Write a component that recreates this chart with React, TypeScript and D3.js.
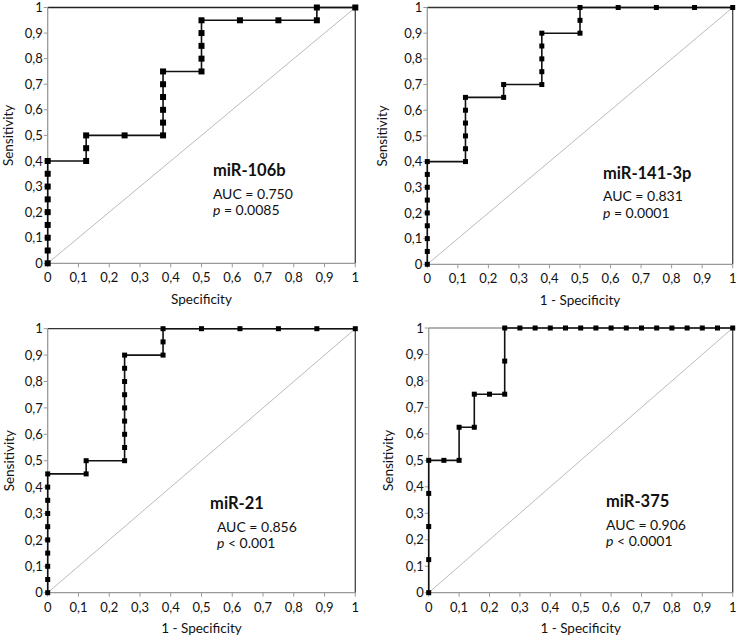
import * as d3 from "d3";

// ROC points: x = 1 - specificity, y = sensitivity
const fpr106b = [0, 0, 0, 0, 0, 0, 0, 0, 0, 0.125, 0.125, 0.125, 0.25, 0.375, 0.375, 0.375, 0.375, 0.375, 0.375, 0.5, 0.5, 0.5, 0.5, 0.5, 0.625, 0.75, 0.875, 0.875, 1];
const tpr106b = [0, 0.05, 0.1, 0.15, 0.2, 0.25, 0.3, 0.35, 0.4, 0.4, 0.45, 0.5, 0.5, 0.5, 0.55, 0.6, 0.65, 0.7, 0.75, 0.75, 0.8, 0.85, 0.9, 0.95, 0.95, 0.95, 0.95, 1, 1];

const fpr141 = [0, 0, 0, 0, 0, 0, 0, 0, 0, 0.125, 0.125, 0.125, 0.125, 0.125, 0.125, 0.25, 0.25, 0.375, 0.375, 0.375, 0.375, 0.375, 0.5, 0.5, 0.5, 0.625, 0.75, 0.875, 1];
const tpr141 = [0, 0.05, 0.1, 0.15, 0.2, 0.25, 0.3, 0.35, 0.4, 0.4, 0.45, 0.5, 0.55, 0.6, 0.65, 0.65, 0.7, 0.7, 0.75, 0.8, 0.85, 0.9, 0.9, 0.95, 1, 1, 1, 1, 1];

const fpr21 = [0, 0, 0, 0, 0, 0, 0, 0, 0, 0, 0.125, 0.125, 0.25, 0.25, 0.25, 0.25, 0.25, 0.25, 0.25, 0.25, 0.25, 0.375, 0.375, 0.375, 0.5, 0.625, 0.75, 0.875, 1];
const tpr21 = [0, 0.05, 0.1, 0.15, 0.2, 0.25, 0.3, 0.35, 0.4, 0.45, 0.45, 0.5, 0.5, 0.55, 0.6, 0.65, 0.7, 0.75, 0.8, 0.85, 0.9, 0.9, 0.95, 1, 1, 1, 1, 1, 1];

const fpr375 = [0, 0, 0, 0, 0, 0.05, 0.1, 0.1, 0.15, 0.15, 0.2, 0.25, 0.25, 0.25, 0.3, 0.35, 0.4, 0.45, 0.5, 0.55, 0.6, 0.65, 0.7, 0.75, 0.8, 0.85, 0.9, 0.95, 1];
const tpr375 = [0, 0.125, 0.25, 0.375, 0.5, 0.5, 0.5, 0.625, 0.625, 0.75, 0.75, 0.75, 0.875, 1, 1, 1, 1, 1, 1, 1, 1, 1, 1, 1, 1, 1, 1, 1, 1];

const tickValues = [0, 0.1, 0.2, 0.3, 0.4, 0.5, 0.6, 0.7, 0.8, 0.9, 1];
const tickLabels = ["0", "0,1", "0,2", "0,3", "0,4", "0,5", "0,6", "0,7", "0,8", "0,9", "1"];

const FONT = "Lato, 'Open Sans', sans-serif";

const panels = [
  { name: "miR-106b", auc: "AUC = 0.750", pOp: "=", pVal: "0.0085", xTitle: "Specificity", fpr: fpr106b, tpr: tpr106b,
    box: [47.7, 355.3, 7.5, 263.3], lab: [0.537, 0.34], stat: [0.537], yTitleX: 13, mk: 6, topCol: "#222" },
  { name: "miR-141-3p", auc: "AUC = 0.831", pOp: "=", pVal: "0.0001", xTitle: "1 - Specificity", fpr: fpr141, tpr: tpr141,
    box: [427.3, 732.7, 7.5, 264.3], lab: [0.575, 0.334], stat: [0.575], yTitleX: 387, mk: 5, topCol: "#333" },
  { name: "miR-21", auc: "AUC = 0.856", pOp: "<", pVal: "0.001", xTitle: "1 - Specificity", fpr: fpr21, tpr: tpr21,
    box: [47.7, 355.3, 328.7, 592.7], lab: [0.528, 0.316], stat: [0.55], yTitleX: 14, mk: 5, topCol: "#333" },
  { name: "miR-375", auc: "AUC = 0.906", pOp: "<", pVal: "0.0001", xTitle: "1 - Specificity", fpr: fpr375, tpr: tpr375,
    box: [428.7, 732.7, 328, 592.7], lab: [0.583, 0.323], stat: [0.583], yTitleX: 393, mk: 5, topCol: "#999" },
];

function Panel({ p }: { p: (typeof panels)[number] }) {
  const [l, r, t, b] = p.box;
  const x = d3.scaleLinear().domain([0, 1]).range([l, r]);
  const y = d3.scaleLinear().domain([0, 1]).range([b, t]);
  const pts = p.fpr.map((v, i) => [v, p.tpr[i]] as [number, number]);
  const line = d3.line<[number, number]>().x((d) => x(d[0])).y((d) => y(d[1]));
  const lx = x(p.lab[0]);
  const ly = y(p.lab[1]);
  const sx = x(p.stat[0]);
  return (
    <g>
      {/* diagonal reference */}
      <line x1={x(0)} y1={y(0)} x2={x(1)} y2={y(1)} stroke="#bbb" strokeWidth={1} />
      {/* frame */}
      <line x1={x(0)} y1={y(1)} x2={x(1)} y2={y(1)} stroke={p.topCol} strokeWidth={1.3} />
      <line x1={x(1)} y1={y(0)} x2={x(1)} y2={y(1)} stroke="#444" strokeWidth={1.3} />
      <line x1={x(0)} y1={y(0)} x2={x(1)} y2={y(0)} stroke="#999" strokeWidth={1.3} />
      <line x1={x(0)} y1={y(0)} x2={x(0)} y2={y(1)} stroke="#999" strokeWidth={1.3} />
      {tickValues.map((v, i) => (
        <g key={i}>
          <line x1={x(v)} x2={x(v)} y1={y(0)} y2={y(0) + 4} stroke="#999" />
          <line x1={x(0) - 4} x2={x(0)} y1={y(v)} y2={y(v)} stroke="#999" />
          <text x={x(v)} y={y(0) + 19} textAnchor="middle" fontSize={13} fill="#111">{tickLabels[i]}</text>
          <text x={x(0) - 5} y={y(v) + 4.6} textAnchor="end" fontSize={13} fill="#111">{tickLabels[i]}</text>
        </g>
      ))}
      <path d={line(pts) ?? ""} fill="none" stroke="#111" strokeWidth={1.6} />
      {pts.map((d, i) => (
        <rect key={i} x={x(d[0]) - p.mk / 2} y={y(d[1]) - p.mk / 2} width={p.mk} height={p.mk} fill="#000" />
      ))}
      <text x={(l + r) / 2} y={b + 40.5} textAnchor="middle" fontSize={13.5} fill="#111">{p.xTitle}</text>
      <text transform={`translate(${p.yTitleX},${(t + b) / 2}) rotate(-90)`} textAnchor="middle" fontSize={13.5} fill="#111">Sensitivity</text>
      <text x={lx} y={ly} fontSize={16.5} fontWeight="bold" fill="#111">{p.name}</text>
      <text x={sx} y={ly + 22.5} fontSize={14} fill="#111">{p.auc}</text>
      <text x={sx} y={ly + 39} fontSize={14} fill="#111">
        <tspan fontStyle="italic">p</tspan> {p.pOp} {p.pVal}
      </text>
    </g>
  );
}

export default function App() {
  return (
    <svg width={738} height={638} style={{ position: "absolute", left: 0, top: 0, background: "#fff", fontFamily: FONT }}>
      {panels.map((p) => (
        <Panel key={p.name} p={p} />
      ))}
    </svg>
  );
}
